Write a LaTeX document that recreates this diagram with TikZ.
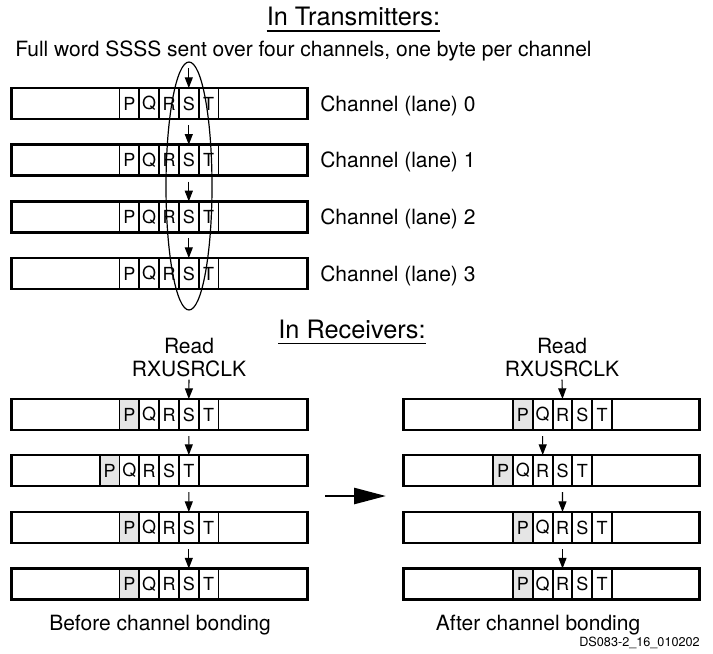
\documentclass[tikz,border=0pt]{standalone}
\usepackage{fontspec}
\setmainfont{TeX Gyre Heros}
\usetikzlibrary{positioning,arrows.meta}

\tikzset{
  cell/.style={draw, line width=1.4pt, minimum width=14.85pt, minimum height=23.25pt,
    inner sep=0pt, outer sep=0pt, font=\fontsize{13.5}{15}\selectfont},
  lane/.style={draw, line width=2.2pt, minimum width=222pt, minimum height=23.25pt, inner sep=0pt},
  shaded/.style={fill=black!10},
  txt/.style={font=\fontsize{15.75}{17.25}\selectfont, inner sep=0pt},
  title/.style={font=\fontsize{19}{22}\selectfont, inner sep=0pt},
  tag/.style={font=\fontsize{9.5}{11}\selectfont, inner sep=0pt},
  flow/.style={-{Triangle[length=8pt,width=6pt]}, line width=0.8pt},
  bond/.style={-{Triangle[length=24pt,width=12pt]}, line width=2pt},
}

% one lane: name, lane centre x, P centre x, y, style of P
\newcommand{\lanebox}[5]{%
  \node[cell,#5] (#1P) at (#3,#4) {P};
  \node[cell,right=0pt of #1P] (#1Q) {Q};
  \node[cell,right=0pt of #1Q] (#1R) {R};
  \node[cell,right=0pt of #1R] (#1S) {S};
  \node[cell,right=0pt of #1S] (#1T) {T};
  \node[lane] (#1) at (#2,#4) {};
}

\begin{document}
\begin{tikzpicture}[x=0.75pt,y=-0.75pt]
	\useasboundingbox (0,0) rectangle (713,653);

	% transmitters
	\node[title, anchor=base] (ttx) at (353.5,25) {In Transmitters:};
	\draw[line width=1.1pt] ([yshift=-4.5pt]ttx.base west) -- ([yshift=-4.5pt]ttx.base east);
	\node[txt, anchor=base west] (word) at (15,56.7) {Full word SSSS sent over four channels, one byte per channel};

	\lanebox{t0}{159.5}{129.4}{103.5}{}
	\lanebox{t1}{159.5}{129.4}{160.2}{}
	\lanebox{t2}{159.5}{129.4}{216.9}{}
	\lanebox{t3}{159.5}{129.4}{273.5}{}

	\node[txt, anchor=base west] (ch0) at (320,111) {Channel (lane) 0};
	\node[txt, anchor=base west] (ch1) at (320,167.7) {Channel (lane) 1};
	\node[txt, anchor=base west] (ch2) at (320,224.4) {Channel (lane) 2};
	\node[txt, anchor=base west] (ch3) at (320,281) {Channel (lane) 3};

	\draw[flow] ([yshift=15pt]t0S.north) -- (t0S.north);
	\draw[flow] ([yshift=-4.5pt]t0S.south) -- (t1S.north);
	\draw[flow] ([yshift=-4.5pt]t1S.south) -- (t2S.north);
	\draw[flow] ([yshift=-4.5pt]t2S.south) -- (t3S.north);

	\draw[line width=0.9pt] (189,186) ellipse (23 and 124);

	% receivers
	\node[title, anchor=base] (trx) at (352,338) {In Receivers:};
	\draw[line width=1.1pt] ([yshift=-4pt]trx.base west) -- ([yshift=-4pt]trx.base east);

	\node[txt, align=center, anchor=south] (readL) at (189,377) {Read\\RXUSRCLK};
	\node[txt, align=center, anchor=south] (readR) at (562,377) {Read\\RXUSRCLK};

	\lanebox{b0}{159.5}{129.4}{414.5}{shaded}
	\lanebox{b1}{159.5}{109.6}{470.5}{shaded}
	\lanebox{b2}{159.5}{129.4}{527.5}{shaded}
	\lanebox{b3}{159.5}{129.4}{584}{shaded}

	\lanebox{a0}{551.5}{522.9}{414.5}{shaded}
	\lanebox{a1}{551.5}{503.1}{470.5}{shaded}
	\lanebox{a2}{551.5}{522.9}{527.5}{shaded}
	\lanebox{a3}{551.5}{522.9}{584}{shaded}

	\draw[flow] ([yshift=-2pt]readL.south) -- (b0S.north);
	\draw[flow] ([yshift=-4.5pt]b0S.south) -- (b1T.north);
	\draw[flow] ([yshift=-4.5pt]b1T.south) -- (b2S.north);
	\draw[flow] ([yshift=-4.5pt]b2S.south) -- (b3S.north);

	\draw[flow] ([yshift=-2pt]readR.south) -- (a0R.north);
	\draw[flow] ([yshift=-4.5pt]a0Q.south) -- (a1R.north);
	\draw[flow] ([yshift=-4.5pt]a1S.south) -- (a2R.north);
	\draw[flow] ([yshift=-4.5pt]a2R.south) -- (a3R.north);

	\coordinate (gofrom) at (325,496);
	\coordinate (goto) at (386,496);
	\draw[bond] (gofrom) -- (goto);

	\node[txt, anchor=base] (before) at (160,630) {Before channel bonding};
	\node[txt, anchor=base] (after) at (538,630) {After channel bonding};
	\node[tag, anchor=base east] (dsno) at (700,646) {DS083-2\_16\_010202};
\end{tikzpicture}
\end{document}
